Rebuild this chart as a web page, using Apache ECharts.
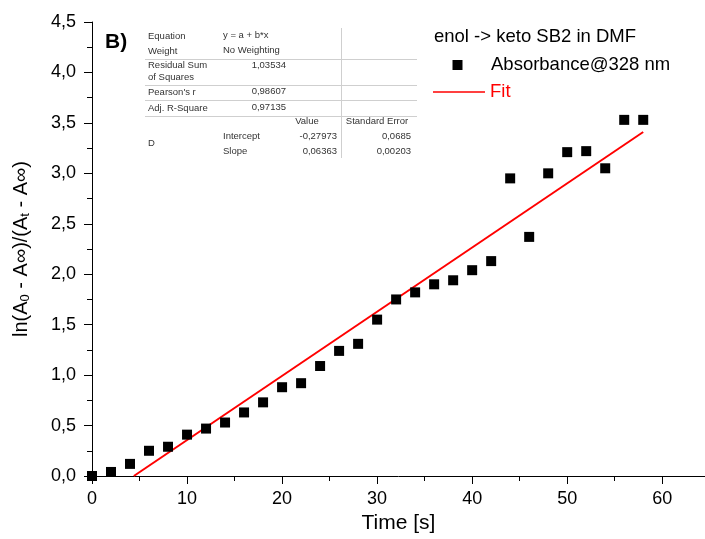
<!DOCTYPE html>
<html>
<head>
<meta charset="utf-8">
<script src="https://cdn.jsdelivr.net/npm/echarts@6/dist/echarts.min.js"></script>
<style>
  html, body { margin: 0; padding: 0; background: #fff; }
  #chart { width: 705px; height: 539px; }
</style>
</head>
<body>
<div id="chart"></div>
<script>
// measured points (time in s, ln ratio)
const timeS = [0, 2, 4, 6, 8, 10, 12, 14, 16, 18, 20, 22, 24, 26, 28, 30, 32, 34, 36, 38, 40, 42, 44, 46, 48, 50, 52, 54, 56, 58]
const lnRatio = [0.0, 0.04, 0.12, 0.25, 0.29, 0.41, 0.47, 0.53, 0.63, 0.73, 0.88, 0.92, 1.09, 1.24, 1.31, 1.55, 1.75, 1.82, 1.90, 1.94, 2.04, 2.13, 2.95, 2.37, 3.00, 3.21, 3.22, 3.05, 3.53, 3.53]

// fit line end points as drawn
const fitX = [4.4, 58]
const fitY = [0, 3.41]

// fit report table
const tableRows = [
  ['Equation', 'y = a + b*x'],
  ['Weight', 'No Weighting']
]
const statRows = [
  ['Residual Sum\nof Squares', '1,03534'],
  ["Pearson's r", '0,98607'],
  ['Adj. R-Square', '0,97135']
]
const paramRows = [
  ['Intercept', '-0,27973', '0,0685'],
  ['Slope', '0,06363', '0,00203']
]

const FONT = '"Liberation Sans", Arial, sans-serif'
const RED = '#ff0000'
const chart = echarts.init(document.getElementById('chart'))

const comma = v => v.toFixed(1).replace('.', ',')

// table graphic
const tbl = []
const txt = (x, y, s, align) => ({
  type: 'text', x: x, y: y,
  style: { text: s, font: '9.5px ' + FONT, fill: '#333', align: align || 'left', verticalAlign: 'middle', lineHeight: 12 }
})
const hline = y => ({ type: 'line', shape: { x1: 145, y1: y, x2: 417, y2: y }, style: { stroke: '#cfcfcf', lineWidth: 1 } })
tbl.push(txt(148, 36, tableRows[0][0]), txt(223, 35, tableRows[0][1]))
tbl.push(txt(148, 51, tableRows[1][0]), txt(223, 50, tableRows[1][1]))
tbl.push(hline(59.5))
tbl.push(txt(148, 71.5, statRows[0][0]), txt(286, 65, statRows[0][1], 'right'))
tbl.push(hline(85.5))
tbl.push(txt(148, 92, statRows[1][0]), txt(286, 91, statRows[1][1], 'right'))
tbl.push(hline(100.5))
tbl.push(txt(148, 108, statRows[2][0]), txt(286, 107, statRows[2][1], 'right'))
tbl.push(hline(116.5))
tbl.push(txt(307, 121, 'Value', 'center'), txt(377, 121, 'Standard Error', 'center'))
tbl.push(txt(148, 143, 'D'))
tbl.push(txt(223, 136, paramRows[0][0]), txt(337, 136, paramRows[0][1], 'right'), txt(411, 136, paramRows[0][2], 'right'))
tbl.push(txt(223, 151, paramRows[1][0]), txt(337, 151, paramRows[1][1], 'right'), txt(411, 151, paramRows[1][2], 'right'))
tbl.push({ type: 'line', shape: { x1: 341.5, y1: 28, x2: 341.5, y2: 158 }, style: { stroke: '#cfcfcf', lineWidth: 1 } })

chart.setOption({
  animation: false,
  backgroundColor: '#fff',
  grid: { left: 92, right: 0, top: 22, bottom: 62, containLabel: false },
  xAxis: {
    type: 'value', min: 0, max: 64.5, interval: 10,
    name: 'Time [s]', nameLocation: 'middle', nameGap: 37,
    nameTextStyle: { fontFamily: FONT, fontSize: 21, color: '#000' },
    axisLine: { show: true, onZero: false, lineStyle: { color: '#000', width: 1 } },
    axisTick: { show: true, inside: false, length: 8, lineStyle: { color: '#000' } },
    minorTick: { show: true, splitNumber: 2, length: 5, lineStyle: { color: '#000' } },
    axisLabel: { fontFamily: FONT, fontSize: 18, color: '#000', margin: 14, showMaxLabel: false },
    splitLine: { show: false }
  },
  yAxis: {
    type: 'value', min: 0, max: 4.5, interval: 0.5,
    name: 'ln(A{sub|0} - A\u221E)/(A{sub|t} - A\u221E)', nameLocation: 'middle', nameGap: 60, nameRotate: 90,
    nameTextStyle: {
      fontFamily: FONT, fontSize: 20, color: '#000',
      rich: { sub: { fontFamily: FONT, fontSize: 13, color: '#000', verticalAlign: 'bottom', padding: [9, 0, 0, 0] } }
    },
    axisLine: { show: true, onZero: false, lineStyle: { color: '#000', width: 1 } },
    axisTick: { show: true, inside: false, length: 8, lineStyle: { color: '#000' } },
    minorTick: { show: true, splitNumber: 2, length: 5, lineStyle: { color: '#000' } },
    axisLabel: { fontFamily: FONT, fontSize: 18, color: '#000', margin: 16, formatter: comma },
    splitLine: { show: false }
  },
  series: [
    {
      name: 'Fit', type: 'line',
      data: fitX.map((x, i) => [x, fitY[i]]),
      symbol: 'none', lineStyle: { color: RED, width: 2 }, z: 2
    },
    {
      name: 'Absorbance@328 nm', type: 'scatter',
      data: timeS.map((t, i) => [t, lnRatio[i]]),
      symbol: 'rect', symbolSize: 10, itemStyle: { color: '#000', opacity: 1 }, z: 3
    }
  ],
  graphic: [
    { type: 'text', x: 105, y: 42, style: { text: 'B)', font: 'bold 21px ' + FONT, fill: '#000', verticalAlign: 'middle' } },
    { type: 'group', children: tbl },
    { type: 'text', x: 434, y: 37, style: { text: 'enol -> keto SB2 in DMF', font: '18.5px ' + FONT, fill: '#000', verticalAlign: 'middle' } },
    { type: 'rect', shape: { x: 452.5, y: 60, width: 10, height: 10 }, style: { fill: '#000' } },
    { type: 'text', x: 491, y: 65, style: { text: 'Absorbance@328 nm', font: '18.5px ' + FONT, fill: '#000', verticalAlign: 'middle' } },
    { type: 'line', shape: { x1: 433, y1: 92, x2: 485, y2: 92 }, style: { stroke: RED, lineWidth: 1.5 } },
    { type: 'text', x: 490, y: 92, style: { text: 'Fit', font: '18.5px ' + FONT, fill: RED, verticalAlign: 'middle' } }
  ]
})
</script>
</body>
</html>
